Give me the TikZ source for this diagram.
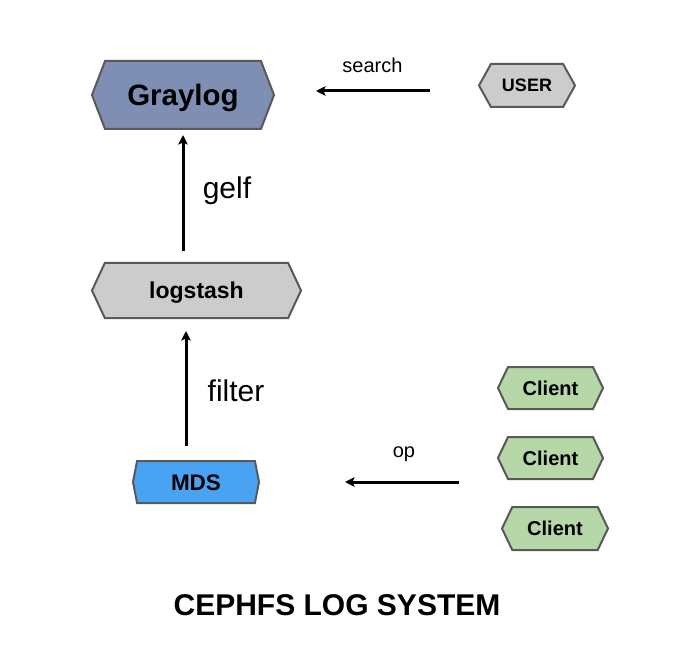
\documentclass[tikz,border=0pt]{standalone}
\usepackage{fontspec}
\setmainfont{Liberation Sans}
\usetikzlibrary{shapes.symbols,arrows.meta}
\definecolor{graylogc}{HTML}{7F8FB3}
\definecolor{greyc}{HTML}{CCCCCC}
\definecolor{mdsc}{HTML}{4AA3F2}
\definecolor{clientc}{HTML}{B6D7A8}
\definecolor{edgec}{HTML}{595959}
\newcommand{\fs}[1]{\fontsize{#1}{#1}\selectfont}
\tikzset{
  hexbox/.style={signal, signal to=west and east, draw=edgec, line width=2pt,
    inner sep=0pt, text depth=0pt, text height=0.716*#1 pt, font=\bfseries\fs{#1}},
  flow/.style={line width=3pt, -{Stealth[length=9.5pt,width=9.5pt,inset=2pt]}},
  lbl/.style={inner sep=0pt, anchor=center}
}
\begin{document}
\begin{tikzpicture}[x=1pt,y=-1pt]
\useasboundingbox[fill=white] (0,0) rectangle (681,650);
% nodes
\node[hexbox=29.5, fill=graylogc, minimum width=182pt, minimum height=68pt,
  signal pointer angle=138] (graylog) at (183,95) {Graylog};
\node[hexbox=18, fill=greyc, minimum width=96pt, minimum height=43pt,
  signal pointer angle=122] (user) at (527,85.5) {USER};
\node[hexbox=23, fill=greyc, minimum width=209pt, minimum height=55pt,
  signal pointer angle=130] (logstash) at (196.5,290.5) {logstash};
\node[hexbox=22.5, fill=mdsc, minimum width=126pt, minimum height=42pt,
  signal pointer angle=158] (mds) at (196,482) {MDS};
\node[hexbox=20, fill=clientc, minimum width=105pt, minimum height=42pt,
  signal pointer angle=129] (c1) at (550.5,388) {Client};
\node[hexbox=20, fill=clientc, minimum width=105pt, minimum height=42pt,
  signal pointer angle=129] (c2) at (550.5,458) {Client};
\node[hexbox=20, fill=clientc, minimum width=106pt, minimum height=43pt,
  signal pointer angle=129] (c3) at (555,528.5) {Client};
% arrow end points
\coordinate (s1) at (430,91);
\coordinate (s2) at (316,91);
\coordinate (g1) at (183,251);
\coordinate (g2) at (183,135);
\coordinate (f1) at (186,446);
\coordinate (f2) at (186,331);
\coordinate (o1) at (459,482);
\coordinate (o2) at (345,482);
\draw[flow] (s1) -- (s2);
\draw[flow] (g1) -- (g2);
\draw[flow] (f1) -- (f2);
\draw[flow] (o1) -- (o2);
% labels
\node[lbl, font=\fs{20}] (lsearch) at (372.5,65) {search};
\node[lbl, font=\fs{30}] (lgelf) at (227,191) {gelf};
\node[lbl, font=\fs{30}] (lfilter) at (236,391) {filter};
\node[lbl, font=\fs{20}] (lop) at (404,454) {op};
\node[lbl, font=\bfseries\fs{30}] (title) at (337,605) {CEPHFS LOG SYSTEM};
\end{tikzpicture}
\end{document}
